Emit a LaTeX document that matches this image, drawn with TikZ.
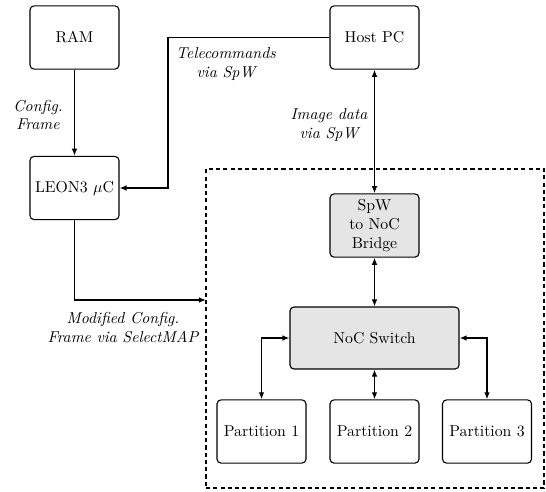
\documentclass[tikz,border=0pt]{standalone}
\usetikzlibrary{arrows.meta}
\tikzset{
  blk/.style={draw, line width=0.7pt, rounded corners=2.5pt, align=center,
    inner sep=0pt, minimum width=56.3pt, minimum height=40pt, font=\normalsize},
  hw/.style={blk, fill=black!10},
  tip/.style={Latex[length=4.5pt,width=3.6pt]},
  link/.style={line width=0.9pt, -{Latex[length=4.5pt,width=3.6pt]}},
  duplex/.style={line width=0.9pt, {Latex[length=4.5pt,width=3.6pt]}-{Latex[length=4.5pt,width=3.6pt]}},
  lbl/.style={font=\itshape, align=center, inner sep=0pt},
  fpgabox/.style={draw, line width=0.75pt, dash pattern=on 2.6pt off 2pt,
    minimum width=214pt, minimum height=202pt, inner sep=0pt}
}
\begin{document}
\begin{tikzpicture}[x=0.633pt, y=-0.633pt]
  \useasboundingbox (0,0) rectangle (546,491);

  % FPGA region
  \node[fpgabox] (fpga) at (375,328.5) {};

  % blocks
  \node[blk] (ram)  at (74.5,37.5) {RAM};
  \node[blk] (leon) at (74.5,188) {LEON3 $\mu$C};
  \node[blk] (host) at (374.5,37.5) {Host PC};
  \node[hw]  (bridge) at (374.5,225.5) {SpW\\to NoC\\Bridge};
  \node[hw, minimum width=107pt, minimum height=39.2pt] (noc) at (374.5,338) {NoC Switch};
  \node[blk] (p1) at (261.5,431.5) {Partition 1};
  \node[blk] (p2) at (374.5,431.5) {Partition 2};
  \node[blk] (p3) at (487,431.5) {Partition 3};

  % routing points
  \coordinate (tcturn) at (168,37.5);
  \coordinate (cfgin) at (206,300);

  % connections
  \draw[link] (ram) -- (leon);
  \draw[link] (host.west) -- (tcturn) |- (leon.east);
  \draw[link] (leon.south) |- (cfgin);
  \draw[duplex] (host) -- (bridge);
  \draw[duplex] (bridge) -- (noc);
  \draw[duplex] (noc) -- (p2);
  \draw[duplex] (noc.west) -| (p1.north);
  \draw[duplex] (noc.east) -| (p3.north);

  % labels
  \node[lbl] (lcfg) at (38,115) {Config.\\Frame};
  \node[lbl] (ltc)  at (226,64) {Telecommands\\via SpW};
  \node[lbl] (limg) at (329,125) {Image data\\via SpW};
  \node[lbl] (lmod) at (123,328) {Modified Config.\\Frame via SelectMAP};
\end{tikzpicture}
\end{document}
